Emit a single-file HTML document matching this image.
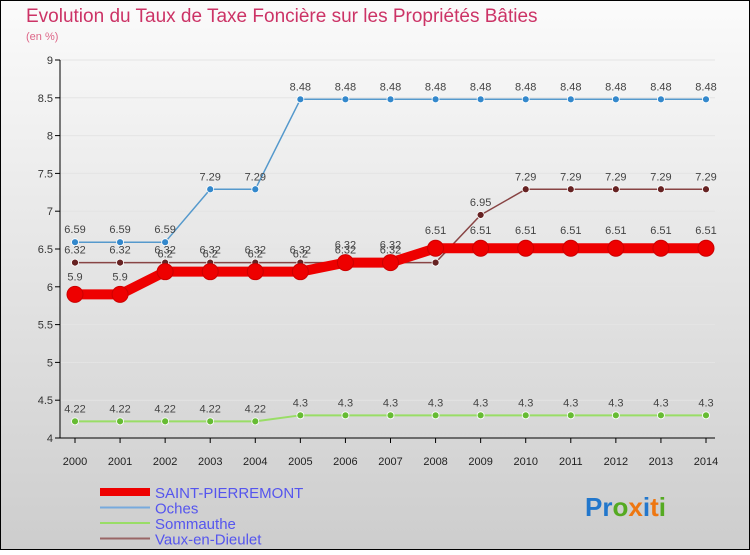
<!DOCTYPE html>
<html><head><meta charset="utf-8"><style>
html,body{margin:0;padding:0;}
body{width:750px;height:550px;overflow:hidden;font-family:"Liberation Sans",sans-serif;}
</style></head><body>
<svg id="chart" width="750" height="550" xmlns="http://www.w3.org/2000/svg" font-family="Liberation Sans, sans-serif">
<defs><linearGradient id="bg" x1="0" y1="0" x2="0" y2="1"><stop offset="0" stop-color="#fbfbfb"/><stop offset="1" stop-color="#cdcdcd"/></linearGradient></defs>
<rect x="0.5" y="0.5" width="749" height="549" fill="url(#bg)" stroke="#000"/>
<text x="26" y="22" font-size="19" fill="#cc3366">Evolution du Taux de Taxe Foncière sur les Propriétés Bâties</text>
<text x="26" y="40" font-size="11" fill="#dd6688">(en %)</text>
<g id="grid"></g><g id="axes"></g><g id="series"></g><g id="legend"></g>
<text x="585" y="516" font-size="26" font-weight="bold"><tspan fill="#2277cc">Pr</tspan><tspan fill="#55aa22">o</tspan><tspan fill="#ee7711">x</tspan><tspan fill="#2277cc">i</tspan><tspan fill="#ee7711">t</tspan><tspan fill="#55aa22">i</tspan></text>
</svg>
<script>
const years=[2000,2001,2002,2003,2004,2005,2006,2007,2008,2009,2010,2011,2012,2013,2014];
const yTicks=[4,4.5,5,5.5,6,6.5,7,7.5,8,8.5,9];
const seriesNames=["SAINT-PIERREMONT","Oches","Sommauthe","Vaux-en-Dieulet"];
const saint=[5.9,5.9,6.2,6.2,6.2,6.2,6.32,6.32,6.51,6.51,6.51,6.51,6.51,6.51,6.51];
const oches=[6.59,6.59,6.59,7.29,7.29,8.48,8.48,8.48,8.48,8.48,8.48,8.48,8.48,8.48,8.48];
const somm=[4.22,4.22,4.22,4.22,4.22,4.3,4.3,4.3,4.3,4.3,4.3,4.3,4.3,4.3,4.3];
const vaux=[6.32,6.32,6.32,6.32,6.32,6.32,6.32,6.32,6.32,6.95,7.29,7.29,7.29,7.29,7.29];
const NS="http://www.w3.org/2000/svg";
const x=i=>75+i*(706-75)/(years.length-1);
const y=v=>438-(v-4)*(438-60)/5;
function mk(tag,attrs,parent,txt){const e=document.createElementNS(NS,tag);for(const k in attrs)e.setAttribute(k,attrs[k]);if(txt!==undefined)e.textContent=txt;parent.appendChild(e);return e;}
const grid=document.getElementById('grid'),axes=document.getElementById('axes'),ser=document.getElementById('series'),leg=document.getElementById('legend');
yTicks.forEach(t=>{
 if(t>4){const g=mk('line',{x1:60,x2:715,y1:y(t),y2:y(t),stroke:'#e4e4e4'},grid);}
 const tk=mk('line',{x1:55,x2:60,y1:y(t),y2:y(t),stroke:'#000'},axes);
 const lb=mk('text',{x:53,y:y(t)+4,'font-size':11,'text-anchor':'end',fill:'#333'},axes,String(t));
});
const ya=mk('line',{x1:60,x2:60,y1:60,y2:438,stroke:'#000'},axes);
const xa=mk('line',{x1:60,x2:715,y1:438,y2:438,stroke:'#000'},axes);
years.forEach((yr,i)=>{
 const tk=mk('line',{x1:x(i),x2:x(i),y1:438,y2:443,stroke:'#000'},axes);
 const lb=mk('text',{x:x(i),y:465,'font-size':11,'text-anchor':'middle',fill:'#222'},axes,String(yr));
});
const defs=[{d:somm,c:'#99dd66',p:'#66bb33',w:2,r:3.5,n:'sommauthe'},{d:oches,c:'#5599cc',p:'#3388cc',w:1.5,r:3.5,n:'oches'},{d:vaux,c:'#884444',p:'#662222',w:1.5,r:3.5,n:'vaux-en-dieulet'},{d:saint,c:'#ee0000',p:'#ee0000',w:10,r:8,n:'saint-pierremont'}];
defs.forEach(s=>{
 const pts=s.d.map((v,i)=>x(i)+','+y(v)).join(' ');
 const l=mk('polyline',{points:pts,fill:'none',stroke:s.c,'stroke-width':s.w,'stroke-linejoin':'round'},ser);
 s.d.forEach((v,i)=>{
  const c=mk('circle',{cx:x(i),cy:y(v),r:s.r,fill:s.p,stroke:s.w>5?'#cc0000':'#fff','stroke-width':s.w>5?1:0.8},ser);
  const t=mk('text',{x:x(i),y:y(v)-(s.w>5?14:9),'font-size':11,'text-anchor':'middle',fill:'#444'},ser,String(v));
 });
});
const legC=['#ee0000','#77aadd','#99dd66','#996666'],legW=[8,2,2,2];
seriesNames.forEach((n,i)=>{
 const yy=492+i*15.5;
 const l=mk('line',{x1:100,x2:150,y1:yy,y2:yy,stroke:legC[i],'stroke-width':legW[i]},leg);
 const t=mk('text',{x:155,y:yy+6,'font-size':15,fill:'#5555ee'},leg,n);
});
</script>
</body></html>
